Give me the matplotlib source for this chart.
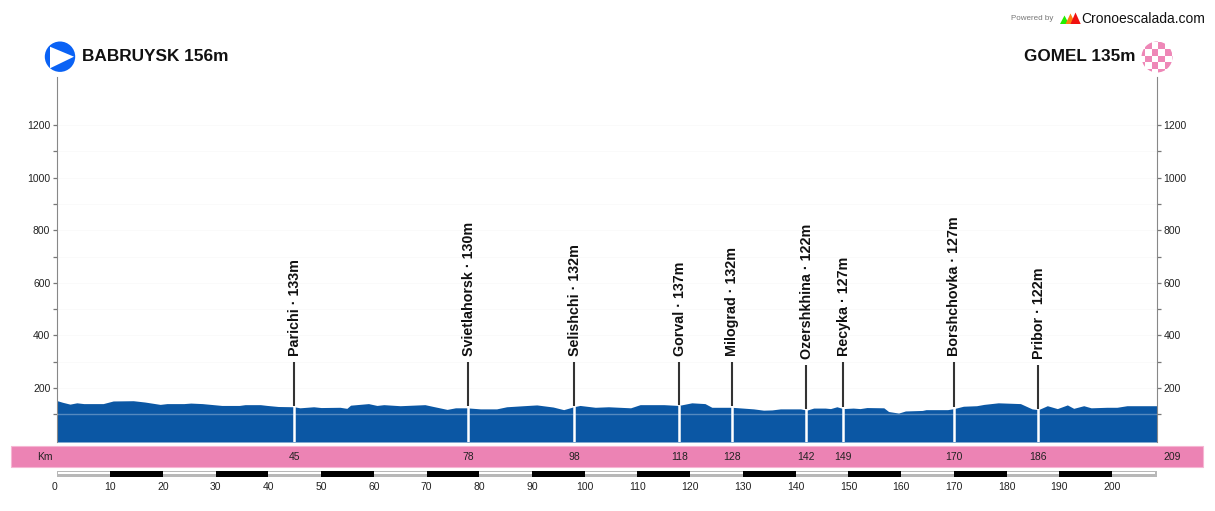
import matplotlib
matplotlib.use('Agg')
from matplotlib import pyplot
from matplotlib import patches
from matplotlib import transforms
import numpy as np

W, H = 1215, 511

km = [0, 1, 2.4, 3.7, 5, 8.7, 10.6, 14.4, 16.6, 19.5, 20.8, 24, 25.3, 27.5, 31.2, 34.5, 35.6, 38.5, 39.8,
      41.9, 44.9, 46, 48.6, 50, 53.6, 54.9, 55.6, 59, 60.6, 61.9, 65, 69.7, 71.3, 73.9, 75.5, 77.6, 80.2,
      83.3, 85.2, 88.4, 90.9, 94, 96, 97.9, 99.1, 102, 104.5, 108.7, 110.5, 115, 117.8, 120.3, 122.8,
      124.1, 127.9, 132, 133.9, 135.5, 137.1, 140.9, 142.1, 143.4, 145.6, 146.6, 147.8, 149, 150.9, 152.2,
      153.5, 156.7, 157.6, 159.5, 160.8, 164, 164.7, 168.8, 170, 171.8, 174.3, 175.7, 178.4, 182.6, 184.8,
      186, 186.8, 187.7, 189.6, 191.5, 192.7, 194.6, 196, 199, 200.9, 202.8, 208.4]
elev = [152, 146, 139, 144, 141, 141, 151, 152, 147, 138, 141, 141, 143, 141, 134, 134, 137, 137, 134,
        130, 129, 125, 129, 126, 127, 123, 135, 141, 134, 137, 133, 137, 130, 119, 125, 125, 121,
        121, 129, 133, 136, 128, 118, 129, 134, 127, 129, 125, 137, 137, 134, 144, 141,
        127, 127, 121, 116, 117, 121, 121, 116, 124, 124, 122, 129, 122, 124, 122,
        126, 125, 111, 105, 113, 115, 118, 118, 122, 131, 133, 138, 144, 141, 121,
        118, 125, 133, 122, 136, 123, 133, 125, 127, 127, 133, 133]

city_names = ['Parichi', 'Svietlahorsk', 'Selishchi', 'Gorval', 'Milograd', 'Ozershkhina', 'Recyka',
              'Borshchovka', 'Pribor']
city_elev = [133, 130, 132, 137, 132, 122, 127, 127, 122]
city_km = [44.9, 77.9, 98, 117.9, 127.9, 142, 149, 170, 186]
city_km_labels = ['45', '78', '98', '118', '128', '142', '149', '170', '186']
total_km = 209
total_km_pos = 208.4
stem_top = [299, 299, 299, 299, 299, 287, 299, 299, 287]

START = 'BABRUYSK 156m'
END = 'GOMEL 135m'

FONT = 'Liberation Sans'
pyplot.rcParams['font.family'] = [FONT, 'DejaVu Sans']


def Axes(fig, left, right, top, bottom):
    return fig.add_axes([left / W, 1 - bottom / H, (right - left) / W, (bottom - top) / H])


fig = pyplot.figure(figsize=(W / 100, H / 100), dpi=100, facecolor='white')

# main profile
ax = Axes(fig, 57.3, 1156.5, 77, 442)
ax.set_xlim(0, total_km_pos)
ax.set_ylim(-5, 1383)
ax.set_facecolor('white')
for y in range(100, 1300, 100):
    ax.axhline(y, color='#fafafa', lw=0.72, zorder=1)
ax.fill_between(km, elev, -5, color='#0b57a4', lw=0, zorder=2)
ax.axhline(100, color='white', alpha=0.3, lw=1, zorder=3)

for name, e, k, top in zip(city_names, city_elev, city_km, stem_top):
    ax.plot([k, k], [-5, e], color='white', lw=1.8, zorder=4, solid_capstyle='butt')
    ax.plot([k, k], [e, top], color='#333333', lw=1.5, zorder=4, solid_capstyle='butt')
    ax.annotate('{} · {}m'.format(name, e), (k, top), xytext=(0.5, 6.5), textcoords='offset pixels',
                rotation=90, ha='center', va='bottom', fontsize=10.3, fontweight='bold', color='#111111')

for s in ['top', 'bottom']:
    ax.spines[s].set_visible(False)
for s in ['left', 'right']:
    ax.spines[s].set_color('#888888')
    ax.spines[s].set_linewidth(0.8)
ax.set_xticks([])
ax.set_yticks(range(200, 1300, 200))
ax.set_yticks(range(100, 1200, 200), minor=True)
ax.tick_params(axis='y', which='both', left=True, right=True, labelleft=True, labelright=True,
               length=3.2, width=0.9, color='#777777', labelsize=7.5, labelcolor='#222222', pad=1.8)

# km scale bar
bar = Axes(fig, 57.3, 1156.5, 470.8, 476.8)
bar.set_xlim(0, total_km_pos)
bar.set_ylim(0, 1)
bar.barh(0.5, total_km_pos, height=1, color='#b8b8b8', lw=0)
bar.barh(0.6, total_km_pos - 0.4, left=0.2, height=0.42, color='white', lw=0)
bar.barh([0.5] * 10, [10] * 10, left=np.arange(10, 200, 20), height=1, color='black', lw=0)
for s in bar.spines.values():
    s.set_visible(False)
bar.set_yticks([])
bar.set_xticks(range(0, 201, 10))
bar.tick_params(axis='x', length=0, labelsize=7.5, labelcolor='#222222', pad=4)
first = bar.get_xticklabels()[0]
first.set_transform(first.get_transform() + transforms.ScaledTranslation(-2.5 / 100, 0, fig.dpi_scale_trans))

# decorations in pixel coordinates
deco = fig.add_axes([0, 0, 1, 1], zorder=-1)
deco.set_xlim(0, W)
deco.set_ylim(H, 0)
deco.axis('off')
deco.add_patch(patches.Rectangle((11, 446.5), 1192, 21, facecolor='#ec83b4', edgecolor='#f6b6d3', lw=0.8))
over = fig.add_axes([0, 0, 1, 1], zorder=5)
over.set_xlim(0, W)
over.set_ylim(H, 0)
over.axis('off')
over.set_facecolor('none')
over.text(45, 457, 'Km', ha='center', va='center', fontsize=7.5, color='#222222')
band_y = transforms.blended_transform_factory(ax.transData, over.transData)
for k, lab in zip(city_km, city_km_labels):
    over.text(k, 457, lab, transform=band_y, ha='center', va='center', fontsize=7.5, color='#222222')
over.text(total_km_pos + 3, 457, str(total_km), transform=band_y, ha='center', va='center', fontsize=7.5,
          color='#222222')

# header
over.add_patch(patches.Circle((60, 56.7), 15.2, facecolor='#0a62f5', edgecolor='none'))
over.add_patch(patches.Polygon([[50, 46.7], [74, 56.7], [50, 68.3]], facecolor='white', edgecolor='none'))
over.text(82, 56.5, START, ha='left', va='center', fontsize=12.4, fontweight='bold', color='#111111')
over.text(1136, 56.5, END, ha='right', va='center', fontsize=12.3, fontweight='bold', color='#111111')

clip = patches.Circle((1157, 57), 15.5, facecolor='white', edgecolor='none')
over.add_patch(clip)
for i in range(-1, 5):
    for j in range(-1, 5):
        if (i + j) % 2 == 0:
            r = patches.Rectangle((1145 + i * 6.67, 42.3 + j * 6.67), 6.67, 6.67, facecolor='#ee87b7',
                                  edgecolor='none')
            over.add_patch(r)
            r.set_clip_path(clip)

over.text(1032, 19, 'Powered by', ha='center', va='center', fontsize=5.8, color='#777777')
over.add_patch(patches.Polygon([[1060, 24], [1064.5, 15.5], [1069, 24]], facecolor='#22ee00', edgecolor='none'))
over.add_patch(patches.Polygon([[1065.5, 24], [1070.5, 13.5], [1075.5, 24]], facecolor='#ff7f10', edgecolor='none'))
over.add_patch(patches.Polygon([[1070.5, 24], [1075.5, 12.5], [1080.7, 24]], facecolor='#f01010', edgecolor='none'))
over.text(1081, 19, 'Cronoescalada.com', ha='left', va='center', fontsize=10, color='#111111')

fig.savefig('out.png', dpi=100, facecolor='white')
